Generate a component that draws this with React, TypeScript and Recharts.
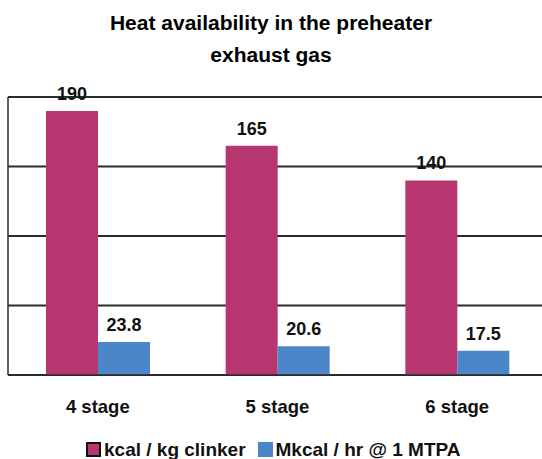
import React from 'react';
import {
  BarChart,
  Bar,
  XAxis,
  YAxis,
  CartesianGrid,
  LabelList,
} from 'recharts';

// categories and series
const stages = ['4 stage', '5 stage', '6 stage'];
const kcalPerKg = [190, 165, 140];
const mkcalPerHr = [23.8, 20.6, 17.5];
const yTicks = [0, 50, 100, 150, 200];

const seriesNames = ['kcal / kg clinker', 'Mkcal / hr @ 1 MTPA'];
const seriesColors = ['#B8366F', '#4A86C8'];

const FONT = '"Liberation Sans", Arial, sans-serif';

const data = stages.map((stage, i) => ({
  stage,
  kcal: kcalPerKg[i],
  mkcal: mkcalPerHr[i],
}));

const labelStyle = { fill: '#111', fontSize: 18, fontWeight: 'bold', fontFamily: FONT };

// y axis keeps its ticks (so the grid gets them) but draws no tick text
const NoTick = (): React.ReactElement => <g />;

export default function App(): React.ReactElement {
  return (
    <div
      style={{
        position: 'absolute',
        left: 0,
        top: 0,
        width: 542,
        height: 459,
        overflow: 'hidden',
        background: '#fff',
        fontFamily: FONT,
      }}
    >
      {/* Title */}
      <div
        style={{
          position: 'absolute',
          top: 6.5,
          left: 0,
          width: 542,
          textAlign: 'center',
          fontSize: 21,
          fontWeight: 'bold',
          lineHeight: '32px',
          color: '#000',
        }}
      >
        Heat availability in the preheater
        <br />
        exhaust gas
      </div>

      <BarChart
        width={547}
        height={459}
        data={data}
        margin={{ top: 97, right: 0, left: 7, bottom: 44 }}
        barCategoryGap={38}
        barGap={0}
        style={{ position: 'absolute', left: 0, top: 0 }}
      >
        <CartesianGrid vertical={false} stroke="#2b2b2b" strokeWidth={2} />
        <YAxis
          domain={[0, 200]}
          ticks={yTicks}
          tick={NoTick}
          tickLine={false}
          width={1}
          axisLine={{ stroke: '#2b2b2b', strokeWidth: 1.5 }}
        />
        <XAxis
          dataKey="stage"
          height={40}
          tickLine={false}
          tickMargin={19}
          axisLine={{ stroke: '#2b2b2b', strokeWidth: 1.5 }}
          tick={{ fill: '#111', fontSize: 18.5, fontWeight: 'bold', fontFamily: FONT }}
        />
        <Bar dataKey="kcal" fill={seriesColors[0]} isAnimationActive={false}>
          <LabelList dataKey="kcal" position="top" offset={11} style={labelStyle} />
        </Bar>
        <Bar dataKey="mkcal" fill={seriesColors[1]} isAnimationActive={false}>
          <LabelList dataKey="mkcal" position="top" offset={11} style={labelStyle} />
        </Bar>
      </BarChart>

      {/* Legend */}
      <div
        style={{
          position: 'absolute',
          top: 440,
          left: 86,
          display: 'flex',
          alignItems: 'center',
          fontSize: 19,
          fontWeight: 'bold',
          lineHeight: '19px',
          color: '#111',
          whiteSpace: 'nowrap',
        }}
      >
        {seriesNames.map((name, i) => (
          <div
            key={name}
            style={{ display: 'flex', alignItems: 'center', marginRight: 12 }}
          >
            <span
              style={{
                display: 'inline-block',
                boxSizing: 'border-box',
                width: 15,
                height: 15,
                background: seriesColors[i],
                border: i === 0 ? '2px solid #111' : 'none',
                marginRight: 3,
              }}
            />
            <span>{name}</span>
          </div>
        ))}
      </div>
    </div>
  );
}
